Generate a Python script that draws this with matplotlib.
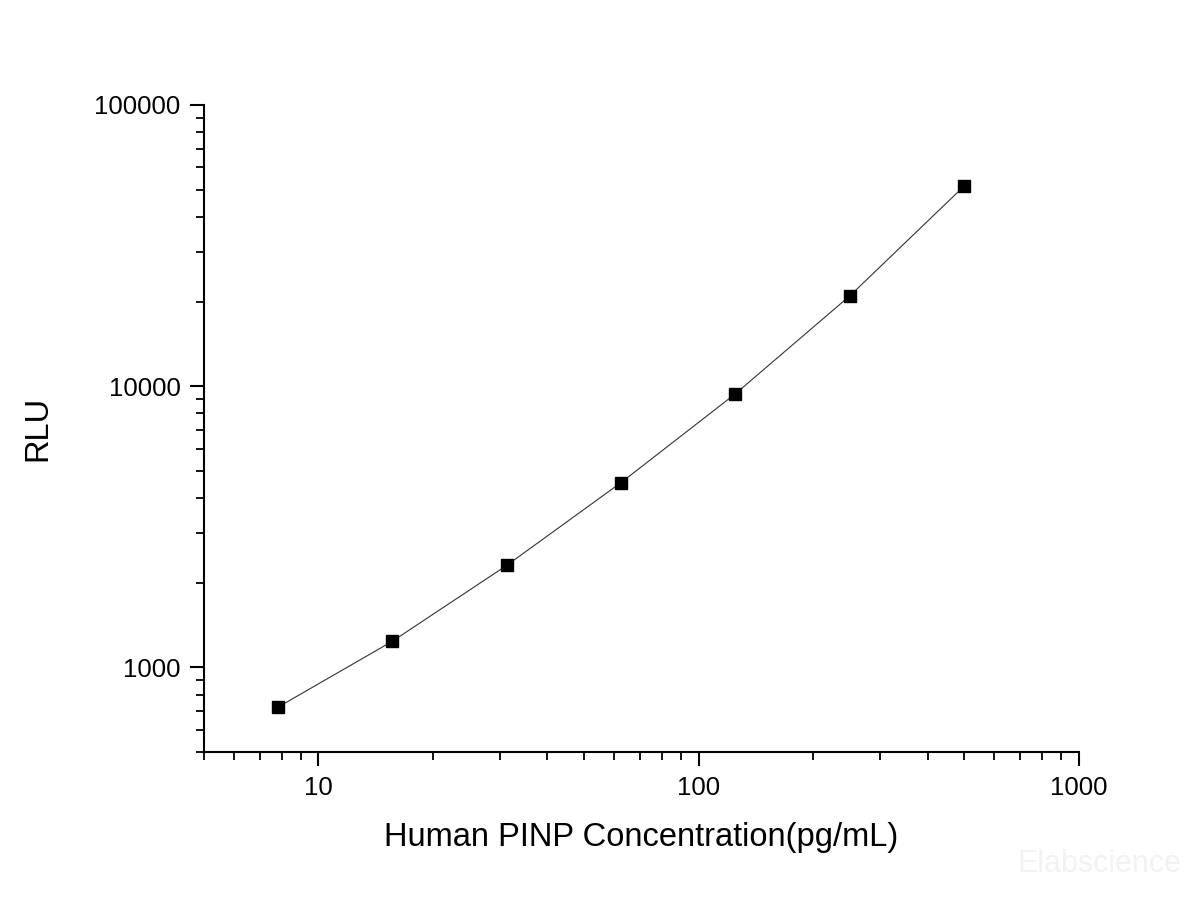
import matplotlib.pyplot as plt
from matplotlib.ticker import LogLocator, NullFormatter, FixedLocator

plt.rcParams['font.family'] = ['Liberation Sans', 'DejaVu Sans']

# standard curve
concentration = [7.8125, 15.625, 31.25, 62.5, 125, 250, 500]
rlu = [721, 1237, 2303, 4540, 9400, 20960, 51550]

x_ticks = [10, 100, 1000]
x_tick_labels = ["10", "100", "1000"]
y_ticks = [1000, 10000, 100000]
y_tick_labels = ["1000", "10000", "100000"]

fig = plt.figure(figsize=(12, 9), dpi=100)
ax = fig.add_axes([0.17, 0.1644, 0.729, 0.719])

ax.plot(concentration, rlu, color="#333333", linewidth=0.8)
ax.plot(concentration, rlu, linestyle="none", marker="s", markersize=9,
        color="black")

ax.set_xscale("log")
ax.set_yscale("log")
ax.set_xlim(5, 1000)
ax.set_ylim(500, 100000)

ax.xaxis.set_major_locator(FixedLocator(x_ticks))
ax.set_xticklabels(x_tick_labels)
ax.yaxis.set_major_locator(FixedLocator(y_ticks))
ax.set_yticklabels(y_tick_labels)
ax.xaxis.set_minor_locator(LogLocator(base=10, subs=range(2, 10)))
ax.yaxis.set_minor_locator(LogLocator(base=10, subs=range(2, 10)))
ax.xaxis.set_minor_formatter(NullFormatter())
ax.yaxis.set_minor_formatter(NullFormatter())

for side in ["top", "right"]:
    ax.spines[side].set_visible(False)
for side in ["left", "bottom"]:
    ax.spines[side].set_linewidth(1.5)

ax.tick_params(which="major", direction="out", length=10, width=1.5,
               labelsize=18.5, pad=7)
ax.tick_params(which="minor", direction="out", length=6, width=1.3)

ax.set_xlabel("Human PINP Concentration(pg/mL)", fontsize=23.5, labelpad=16)
ax.set_ylabel("RLU", fontsize=23.5, labelpad=29)

fig.text(0.985, 0.04, "Elabscience", fontsize=22, color="#f2f2f2",
         ha="right", va="center")

plt.savefig("out.png", dpi=100)
